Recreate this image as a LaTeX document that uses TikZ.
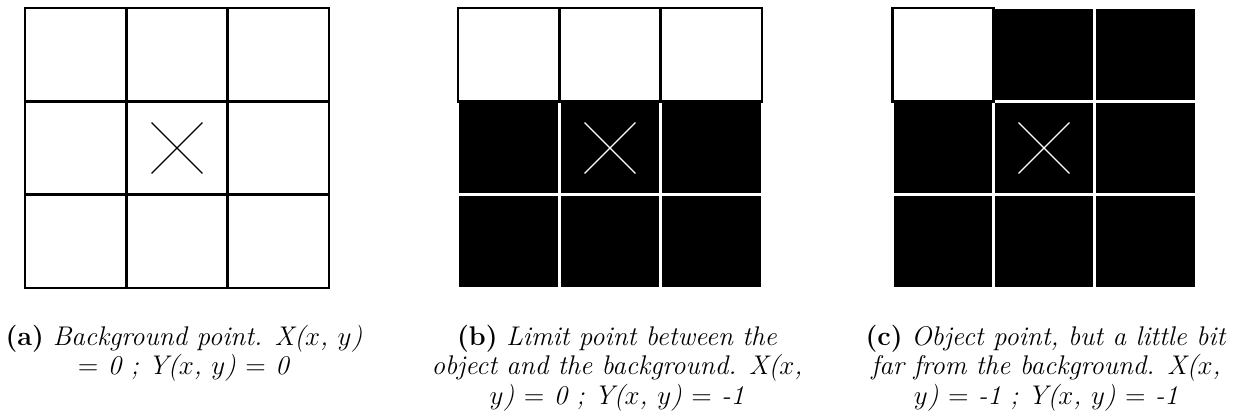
\documentclass[tikz,border=0pt]{standalone}
\usetikzlibrary{shapes.misc}

\tikzset{
  cell/.style  = {rectangle, inner sep=0pt, outer sep=0pt,
                  minimum width=45.04pt, minimum height=41.48pt, line width=1.3pt},
  cellW/.style = {cell, fill=white, draw=black},
  cellB/.style = {cell, fill=black, draw=white},
  crossW/.style = {cross out, draw=black, line width=0.6pt, inner sep=0pt, minimum size=22pt},
  crossB/.style = {crossW, draw=white},
  capt/.style  = {anchor=north, align=center, inner sep=0pt,
                  font=\fontsize{12}{13}\selectfont}
}

\begin{document}
\begin{tikzpicture}[x=0.4444pt, y=-0.4444pt]
      \useasboundingbox (0,0) rectangle (1244,418);

      % Grid (a)
      \node[cellW] (a1) at (75.7 ,54.7)  {};
      \node[cellW] (a2) at (177  ,54.7)  {};
      \node[cellW] (a3) at (278.3,54.7)  {};
      \node[cellW] (a4) at (75.7 ,148)   {};
      \node[cellW] (a5) at (177  ,148)   {};
      \node[cellW] (a6) at (278.3,148)   {};
      \node[cellW] (a7) at (75.7 ,241.3) {};
      \node[cellW] (a8) at (177  ,241.3) {};
      \node[cellW] (a9) at (278.3,241.3) {};
      \node[crossW] (ax) at (a5) {};

      % Grid (b)
      \node[cellB] (b4) at (508.7,148)   {};
      \node[cellB] (b5) at (610  ,148)   {};
      \node[cellB] (b6) at (711.3,148)   {};
      \node[cellB] (b7) at (508.7,241.3) {};
      \node[cellB] (b8) at (610  ,241.3) {};
      \node[cellB] (b9) at (711.3,241.3) {};
      \node[cellW] (b1) at (508.7,54.7)  {};
      \node[cellW] (b2) at (610  ,54.7)  {};
      \node[cellW] (b3) at (711.3,54.7)  {};
      \node[crossB] (bx) at (b5) {};

      % Grid (c)
      \node[cellB] (c2) at (1044  ,54.7)  {};
      \node[cellB] (c3) at (1145.3,54.7)  {};
      \node[cellB] (c4) at (942.7 ,148)   {};
      \node[cellB] (c5) at (1044  ,148)   {};
      \node[cellB] (c6) at (1145.3,148)   {};
      \node[cellB] (c7) at (942.7 ,241.3) {};
      \node[cellB] (c8) at (1044  ,241.3) {};
      \node[cellB] (c9) at (1145.3,241.3) {};
      \node[cellW] (c1) at (942.7 ,54.7)  {};
      \node[crossB] (cx) at (c5) {};

      % Captions
      \node[capt] (capa) at (184,325)
        {\textbf{(a)} \textit{Background point. X($x$, $y$)}\\
         \textit{$=$ 0 ; Y($x$, $y$) $=$ 0}};
      \node[capt] (capb) at (617,325)
        {\textbf{(b)} \textit{Limit point between the}\\
         \textit{object and the background. X($x$,}\\
         \textit{$y$) $=$ 0 ; Y($x$, $y$) $=$ -1}};
      \node[capt] (capc) at (1046,325)
        {\textbf{(c)} \textit{Object point, but a little bit}\\
         \textit{far from the background. X($x$,}\\
         \textit{$y$) $=$ -1 ; Y($x$, $y$) $=$ -1}};
    \end{tikzpicture}
\end{document}
